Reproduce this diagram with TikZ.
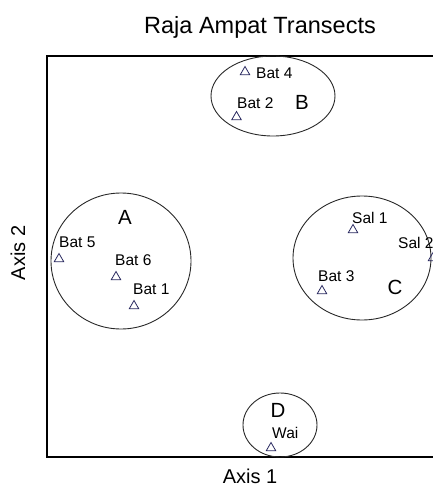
\documentclass[tikz,border=0pt]{standalone}
\usepackage{fontspec}
\setmainfont{Liberation Sans}
\usetikzlibrary{shapes.geometric}
\definecolor{tricol}{RGB}{40,40,95}
\definecolor{ellcol}{RGB}{40,40,40}
\tikzset{
  tri/.style={regular polygon, regular polygon sides=3, draw=tricol, line width=0.8pt, inner sep=0pt, minimum size=11pt},
  lab/.style={anchor=west, inner sep=0pt, font=\fontsize{15.5}{16}\selectfont},
  grp/.style={inner sep=0pt, font=\fontsize{20.5}{22}\selectfont},
  ell/.style={draw=ellcol, line width=0.9pt},
  frame/.style={line width=2pt, black},
  axl/.style={inner sep=0pt, font=\fontsize{20}{22}\selectfont},
}
\begin{document}
\begin{tikzpicture}[x=1pt,y=-1pt]
\useasboundingbox (0,0) rectangle (433,487);
\clip (0,0) rectangle (433,487);
\node[inner sep=0pt, font=\fontsize{23.5}{25}\selectfont] (title) at (260,27) {Raja Ampat Transects};
\draw[frame] (440,56) -- (47,56) -- (47,457) -- (440,457);
\node[axl] (ax1) at (250,476) {Axis 1};
\node[axl, rotate=90] (ax2) at (18,253) {Axis 2};
% ellipses
\draw[ell] (273,96) ellipse [x radius=62, y radius=40];
\draw[ell] (121,261) ellipse [x radius=70, y radius=68];
\draw[ell] (362,258) ellipse [x radius=69, y radius=62];
\draw[ell] (280,425) ellipse [x radius=37, y radius=32];
% group B
\node[tri] (t4) at (245,72) {};
\node[lab] (l4) at (256,73) {Bat 4};
\node[tri] (t2) at (236.5,117) {};
\node[lab] (l2) at (237,103) {Bat 2};
\node[grp] (B) at (302,102) {B};
% group A
\node[grp] (A) at (125,217) {A};
\node[lab] (l5) at (59,242) {Bat 5};
\node[tri] (t5) at (59,259) {};
\node[lab] (l6) at (115,260) {Bat 6};
\node[tri] (t6) at (116,277) {};
\node[lab] (l1) at (133,289) {Bat 1};
\node[tri] (t1) at (134,306) {};
% group C
\node[grp] (C) at (395,287) {C};
\node[lab] (s1) at (352,218) {Sal 1};
\node[tri] (ts1) at (353,230) {};
\node[lab] (s2) at (398,243) {Sal 2};
\node[tri] (ts2) at (433,258) {};
\node[lab] (l3) at (318,276) {Bat 3};
\node[tri] (t3) at (322,291) {};
% group D
\node[grp] (D) at (278,410) {D};
\node[lab] (lw) at (272,433) {Wai};
\node[tri] (tw) at (271,448) {};
\end{tikzpicture}
\end{document}
